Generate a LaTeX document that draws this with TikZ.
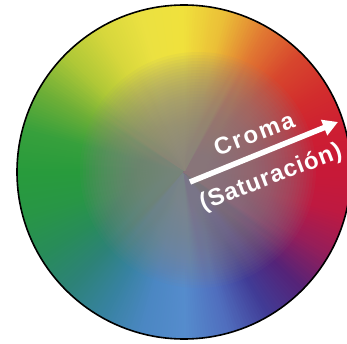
\documentclass[tikz,border=0pt]{standalone}
\usepackage{fontspec}
\usepackage{xcolor}
\usepackage{tikz}
\usetikzlibrary{arrows.meta}
\newfontfamily\wheelfont[LetterSpace=4]{Liberation Sans}

% hue stops, every 15 degrees counter-clockwise from the right
\definecolor{hue0}{RGB}{200,25,55}
\definecolor{hue1}{RGB}{205,30,50}
\definecolor{hue2}{RGB}{210,45,45}
\definecolor{hue3}{RGB}{215,70,45}
\definecolor{hue4}{RGB}{225,120,50}
\definecolor{hue5}{RGB}{235,190,55}
\definecolor{hue6}{RGB}{240,225,60}
\definecolor{hue7}{RGB}{235,225,65}
\definecolor{hue8}{RGB}{215,215,60}
\definecolor{hue9}{RGB}{175,200,55}
\definecolor{hue10}{RGB}{110,175,55}
\definecolor{hue11}{RGB}{55,160,60}
\definecolor{hue12}{RGB}{40,155,60}
\definecolor{hue13}{RGB}{40,150,70}
\definecolor{hue14}{RGB}{40,140,90}
\definecolor{hue15}{RGB}{45,130,120}
\definecolor{hue16}{RGB}{55,130,160}
\definecolor{hue17}{RGB}{75,135,195}
\definecolor{hue18}{RGB}{85,140,205}
\definecolor{hue19}{RGB}{80,110,190}
\definecolor{hue20}{RGB}{65,60,150}
\definecolor{hue21}{RGB}{85,35,120}
\definecolor{hue22}{RGB}{150,30,90}
\definecolor{hue23}{RGB}{190,25,65}
\definecolor{hue24}{RGB}{200,25,55}
\definecolor{coregray}{RGB}{136,132,136}

\begin{document}
\begin{tikzpicture}[
		x=1bp, y=1bp,
		rim/.style={draw=black, line width=1.6bp},
		chroma/.style={draw=white, line width=5.5bp, arrows={-Triangle[length=15bp, width=16bp]}},
		wheeltext/.style={text=white, font=\wheelfont\bfseries\fontsize{24}{28}\selectfont, inner sep=0pt, rotate=21}
		]
		\useasboundingbox (0,0) rectangle (347,344);
		\clip (0,0) rectangle (347,344);
		\coordinate (hub) at (184,172);
		
		\begin{scope}
			\clip (hub) circle[radius=167];
			% Hue wedges, one degree each
			\foreach \k in {0,...,23} {
				\pgfmathtruncatemacro\next{\k+1}
				\foreach \i in {0,...,14} {
					\pgfmathtruncatemacro\mix{round(\i*100/15)}
					\pgfmathsetmacro\start{\k*15+\i}
					\pgfmathsetmacro\stop{\start+1.6}
					\colorlet{wedge}{hue\next!\mix!hue\k}
					\filldraw[wedge, line width=0.6bp] (hub) -- ++(\start:170) arc[start angle=\start, end angle=\stop, radius=170] -- cycle;
				}
			}
			% Desaturated centre, stacked thin layers
			\foreach \r in {118,115,...,1}
				\fill[coregray, fill opacity=0.062] (198,174) circle[radius=\r];
		\end{scope}
		
		% Outline
		\draw[rim] (hub) circle[radius=167];
		
		% Chroma arrow and its labels
		\coordinate (tail) at (190,162);
		\coordinate (tip) at (338,222);
		\draw[chroma] (tail) -- (tip);
		\node[wheeltext] (croma) at (254,210) {\addfontfeature{LetterSpace=9}Croma};
		\node[wheeltext] (satur) at (271,166) {(Saturación)};
	\end{tikzpicture}
\end{document}
